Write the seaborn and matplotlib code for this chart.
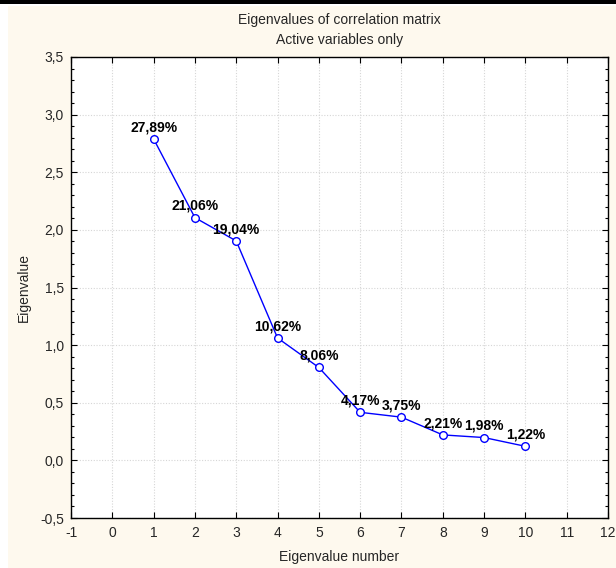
import matplotlib
matplotlib.use("Agg")
import matplotlib.pyplot as plt
import matplotlib.ticker as mticker
from matplotlib.patches import Rectangle
import seaborn as sns
import pandas as pd

eigen_number = [1, 2, 3, 4, 5, 6, 7, 8, 9, 10]
eigenvalues = [2.789, 2.106, 1.904, 1.062, 0.806, 0.417, 0.375, 0.221, 0.198, 0.122]
pct_labels = ["27,89%", "21,06%", "19,04%", "10,62%", "8,06%", "4,17%", "3,75%", "2,21%", "1,98%", "1,22%"]
title_lines = ["Eigenvalues of correlation matrix", "Active variables only"]

sns.set_style("white")
plt.rcParams['font.family'] = ['Liberation Sans', 'DejaVu Sans']

df = pd.DataFrame({"n": eigen_number, "ev": eigenvalues})

fig = plt.figure(figsize=(6.16, 5.68), dpi=100, facecolor="white")
# cream panel background and top black bar
fig.patches.append(Rectangle((8/616, 0), 1 - 8/616, 1 - 6/568, transform=fig.transFigure,
                             facecolor="#FEF9EE", edgecolor="none", zorder=-10))
fig.patches.append(Rectangle((0, 1 - 4/568), 1, 4/568, transform=fig.transFigure,
                             facecolor="black", edgecolor="none", zorder=-9))

ax = fig.add_axes([71/616, 50/568, (608-71)/616, (518-57)/568])
ax.set_facecolor("white")

sns.lineplot(data=df, x="n", y="ev", ax=ax, color="#0000FF", linewidth=1.0,
             marker="o", markersize=5.5, markerfacecolor="white",
             markeredgecolor="#0000FF", markeredgewidth=1.0)

for xv, yv, lab in zip(eigen_number, eigenvalues, pct_labels):
    ax.annotate(lab, (xv, yv), xytext=(0, 3.5), textcoords="offset points",
                ha="center", va="bottom", fontsize=10, fontweight="bold", color="black")

ax.set_xlim(-1, 12)
ax.set_ylim(-0.5, 3.5)
ax.xaxis.set_major_locator(mticker.MultipleLocator(1))
ax.yaxis.set_major_locator(mticker.MultipleLocator(0.5))
ax.yaxis.set_minor_locator(mticker.MultipleLocator(0.1))

ax.xaxis.set_major_formatter(mticker.FuncFormatter(lambda v, p: f"{v:.0f}".replace("\u2212", "-")))
ax.yaxis.set_major_formatter(mticker.FuncFormatter(lambda v, p: f"{v:.1f}".replace(".", ",")))

ax.tick_params(axis="both", which="both", direction="in", top=True, right=True,
               bottom=True, left=True, color="black", labelsize=10)
ax.tick_params(axis="x", which="major", pad=6)
ax.tick_params(axis="y", which="major", pad=5)
ax.tick_params(axis="both", which="major", length=4, width=0.8)
ax.tick_params(axis="both", which="minor", length=2.5, width=0.8)
ax.tick_params(axis="x", which="minor", bottom=False, top=False)

ax.grid(True, which="major", linestyle=(0, (1, 1.5)), color="#d6d6d6", linewidth=0.8)
ax.set_axisbelow(True)

for s in ax.spines.values():
    s.set_visible(True)
    s.set_color("black")
    s.set_linewidth(1.0)

ax.set_xlabel("Eigenvalue number", fontsize=10, labelpad=7)
ax.set_ylabel("Eigenvalue", fontsize=10, labelpad=7)

fig.text((71+608)/2/616, 1 - 20/568, title_lines[0], ha="center", va="center", fontsize=10)
fig.text((71+608)/2/616, 1 - 40/568, title_lines[1], ha="center", va="center", fontsize=10)

fig.savefig("out.png", dpi=100, facecolor=fig.get_facecolor())
